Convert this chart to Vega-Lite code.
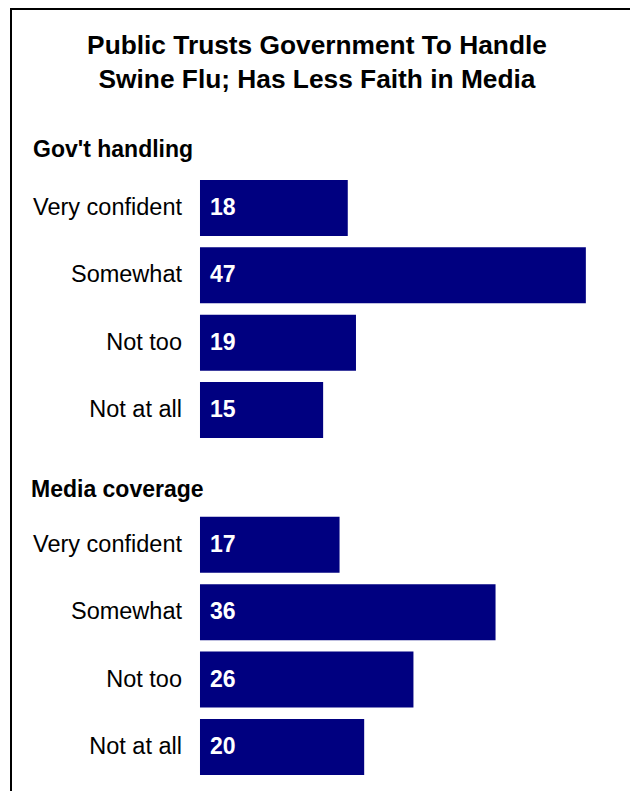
{
  "$schema": "https://vega.github.io/schema/vega-lite/v6.json",
  "autosize": "none",
  "padding": {"left": 11, "top": 9, "right": 0, "bottom": 0},
  "width": 626,
  "height": 870,
  "background": "white",
  "config": {
    "view": {"stroke": "black", "strokeWidth": 2, "fill": null},
    "text": {"font": "Liberation Sans"}
  },
  "data": {
    "values": [
      {"row": "G-h", "label": "Public Trusts Government To Handle\nSwine Flu; Has Less Faith in Media", "type": "title"},
      {"row": "G-h", "label": "Gov't handling", "type": "header"},
      {"row": "G-1", "label": "Very confident", "value": 18, "type": "bar"},
      {"row": "G-2", "label": "Somewhat", "value": 47, "type": "bar"},
      {"row": "G-3", "label": "Not too", "value": 19, "type": "bar"},
      {"row": "G-4", "label": "Not at all", "value": 15, "type": "bar"},
      {"row": "M-h", "label": "Media coverage", "type": "header"},
      {"row": "M-1", "label": "Very confident", "value": 17, "type": "bar"},
      {"row": "M-2", "label": "Somewhat", "value": 36, "type": "bar"},
      {"row": "M-3", "label": "Not too", "value": 26, "type": "bar"},
      {"row": "M-4", "label": "Not at all", "value": 20, "type": "bar"}
    ]
  },
  "encoding": {
    "y": {
      "field": "row",
      "type": "nominal",
      "axis": null,
      "sort": null,
      "scale": {
        "domain": ["G-h", "G-1", "G-2", "G-3", "G-4", "M-h", "M-1", "M-2", "M-3", "M-4"],
        "paddingInner": 0.17,
        "paddingOuter": 0,
        "range": [103.6, 765.9]
      }
    }
  },
  "layer": [
    {
      "transform": [{"filter": "datum.type === 'bar'"}],
      "mark": {"type": "bar", "color": "#000080"},
      "encoding": {
        "x": {
          "field": "value",
          "type": "quantitative",
          "axis": null,
          "scale": {"domain": [-23.02, 53.23], "zero": false, "nice": false}
        }
      }
    },
    {
      "transform": [{"filter": "datum.type === 'bar'"}],
      "mark": {"type": "text", "align": "right", "baseline": "alphabetic", "dx": -18, "dy": 7, "fontSize": 23.5, "color": "black"},
      "encoding": {
        "x": {"datum": 0, "type": "quantitative"},
        "text": {"field": "label"}
      }
    },
    {
      "transform": [{"filter": "datum.type === 'bar'"}],
      "mark": {"type": "text", "align": "left", "baseline": "alphabetic", "dx": 10, "dy": 7, "fontSize": 23, "fontWeight": "bold", "color": "white"},
      "encoding": {
        "x": {"datum": 0, "type": "quantitative"},
        "text": {"field": "value"}
      }
    },
    {
      "transform": [{"filter": "datum.type === 'header' && datum.row === 'G-h'"}],
      "mark": {"type": "text", "align": "left", "baseline": "alphabetic", "dx": -167, "dy": 16, "fontSize": 23, "fontWeight": "bold", "color": "black"},
      "encoding": {
        "x": {"datum": 0, "type": "quantitative"},
        "text": {"field": "label"}
      }
    },
    {
      "transform": [{"filter": "datum.type === 'header' && datum.row === 'M-h'"}],
      "mark": {"type": "text", "align": "left", "baseline": "alphabetic", "dx": -169, "dy": 20, "fontSize": 23, "fontWeight": "bold", "color": "black"},
      "encoding": {
        "x": {"datum": 0, "type": "quantitative"},
        "text": {"field": "label"}
      }
    },
    {
      "transform": [{"filter": "datum.type === 'title'"}],
      "mark": {"type": "text", "align": "center", "baseline": "alphabetic", "dy": -86.5, "lineBreak": "\n", "lineHeight": 33.5, "fontSize": 26.3, "fontWeight": "bold", "color": "black"},
      "encoding": {
        "x": {"datum": 14.25, "type": "quantitative"},
        "text": {"field": "label"}
      }
    }
  ]
}
